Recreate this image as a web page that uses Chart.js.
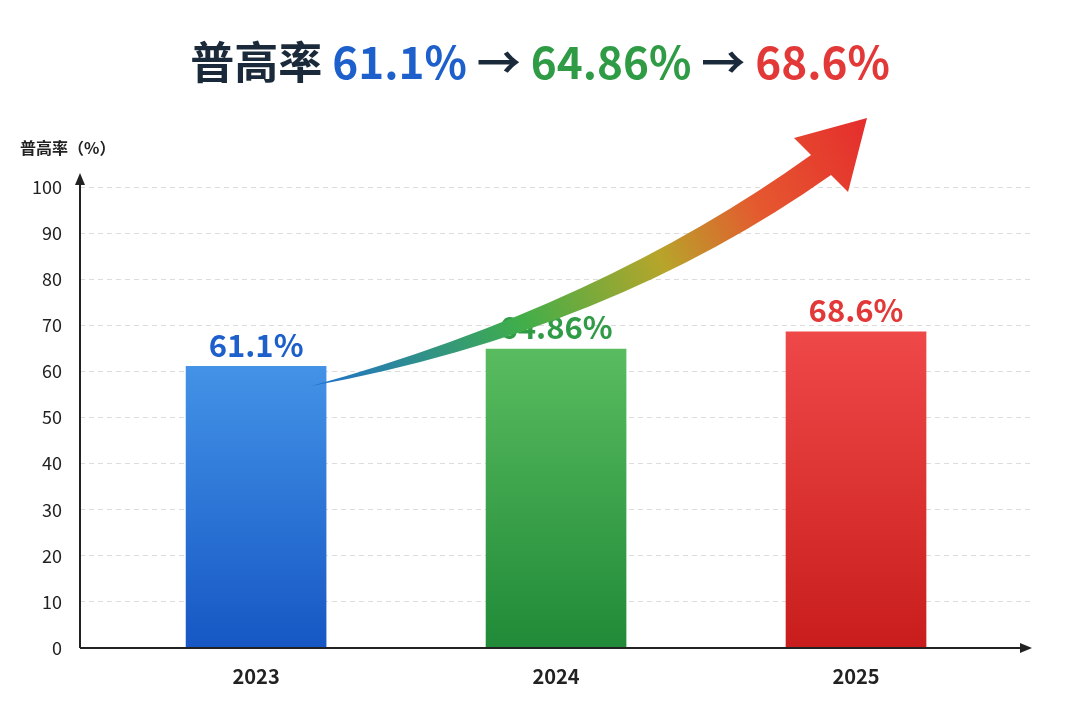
<!DOCTYPE html>
<html><head><meta charset="utf-8">
<script src="https://cdn.jsdelivr.net/npm/chart.js@4/dist/chart.umd.min.js"></script>
<style>html,body{margin:0;background:#fff}#w{width:1080px;height:720px;position:relative}</style>
</head><body><div id="w"><canvas id="c"></canvas></div>
<script>
const categories = ['2023','2024','2025'];
const years = [2023, 2024, 2025];
const values = [61.1, 64.86, 68.6];
const valueLabels = ['61.1%','64.86%','68.6%'];
const yTicks = [0,10,20,30,40,50,60,70,80,90,100];
const colorsTop = ['#4b9ded','#5fc163','#f14a4a'];
const colorsBot = ['#1657c4','#208a38','#c91d1d'];
const textColors = ['#1d5fcb','#2f9b45','#e33838'];
const FONT = '"Noto Sans CJK SC","Noto Sans",sans-serif';

const extras = {
  id:'extras',
  afterDraw(ch){
    const {ctx, scales:{x,y}} = ch;
    const L = x.left, R = x.right, T = y.getPixelForValue(100), B = y.getPixelForValue(0);
    ctx.save();
    ctx.strokeStyle='#222'; ctx.fillStyle='#222'; ctx.lineWidth=2;
    ctx.beginPath(); ctx.moveTo(L,B); ctx.lineTo(L,T-8); ctx.moveTo(L,B); ctx.lineTo(R-6,B); ctx.stroke();
    ctx.beginPath(); ctx.moveTo(L,T-14); ctx.lineTo(L-5,T-2); ctx.lineTo(L+5,T-2); ctx.fill();
    ctx.beginPath(); ctx.moveTo(R+2,B); ctx.lineTo(R-10,B-5); ctx.lineTo(R-10,B+5); ctx.fill();
    ctx.font='bold 31px '+FONT; ctx.textAlign='center'; ctx.textBaseline='bottom';
    years.forEach((yr,i)=>{ctx.fillStyle=textColors[i]; ctx.fillText(valueLabels[i], x.getPixelForValue(yr), y.getPixelForValue(values[i])-6);});
    ctx.fillStyle='#222'; ctx.font='bold 16px '+FONT; ctx.textAlign='left'; ctx.textBaseline='middle';
    ctx.fillText('普高率（%）', 20, 148);
    // trend arrow
    const ax = x.getPixelForValue(years[0]), cx2 = x.getPixelForValue(years[2]);
    const sx = ax+54, sy = y.getPixelForValue(values[0])+20;
    const tx = cx2+11, ty = T-69;
    const g = ctx.createLinearGradient(sx,sy,tx,ty);
    g.addColorStop(0,'#1f6fd0'); g.addColorStop(0.35,'#3fae4a'); g.addColorStop(0.6,'#b7a52a'); g.addColorStop(0.78,'#e5582f'); g.addColorStop(1,'#e52d2d');
    ctx.fillStyle=g;
    ctx.beginPath();
    ctx.moveTo(sx,sy);
    ctx.quadraticCurveTo(sx+290, sy-80, tx-56, ty+37);
    ctx.lineTo(tx-73, ty+20);
    ctx.lineTo(tx, ty);
    ctx.lineTo(tx-19, ty+74);
    ctx.lineTo(tx-36, ty+57);
    ctx.quadraticCurveTo(sx+300, sy-55, sx, sy);
    ctx.fill();
    ctx.restore();
  }
};

new Chart(document.getElementById('c'), {
  type:'bar',
  data:{datasets:[{
    data: years.map((yr,i)=>({x:yr,y:values[i]})),
    barThickness:140,
    backgroundColor(c){
      const ch=c.chart, a=ch.chartArea; if(!a) return colorsTop[0];
      const i=c.dataIndex;
      const g=ch.ctx.createLinearGradient(0,a.top+130,0,a.bottom);
      g.addColorStop(0,colorsTop[i]); g.addColorStop(1,colorsBot[i]); return g;
    }
  }]},
  options:{
    responsive:true, maintainAspectRatio:false, animation:false,
    layout:{padding:{left:0,right:50,top:187,bottom:24}},
    plugins:{legend:{display:false},tooltip:{enabled:false}},
    scales:{
      x:{type:'linear', offset:false, min:2022.413, max:2025.58, grid:{display:false}, border:{display:false},
        afterBuildTicks(s){s.ticks=years.map(v=>({value:v}));},
        ticks:{callback:(v)=>categories[years.indexOf(v)], color:'#222', font:{family:FONT,size:20,weight:'bold'}, padding:8, maxRotation:0}},
      y:{min:0,max:100, afterBuildTicks(s){s.ticks=yTicks.map(v=>({value:v}));},
        grid:{color:'#dcdcdc', drawTicks:false, tickBorderDash:[5,4]}, border:{display:false, dash:[5,4]},
        ticks:{color:'#222', font:{family:FONT,size:18}, padding:18},
        afterFit(s){s.width=80;}}
    }
  },
  plugins:[extras,{
    id:'ttl',
    afterDraw(ch){
      const c=ch.ctx; c.save(); c.font='bold 44px '+FONT; c.textBaseline='middle';
      const parts=[['普高率 ','#1a2a3a'],['61.1%','#1d5fcb'],[' → ','#1a2a3a'],['64.86%','#2f9b45'],[' → ','#1a2a3a'],['68.6%','#e33838']];
      let w=parts.reduce((s,p)=>s+c.measureText(p[0]).width,0);
      let px=(1080-w)/2;
      parts.forEach(p=>{c.fillStyle=p[1]; c.fillText(p[0],px,62); px+=c.measureText(p[0]).width;});
      c.restore();
    }
  }]
});
</script></body></html>
